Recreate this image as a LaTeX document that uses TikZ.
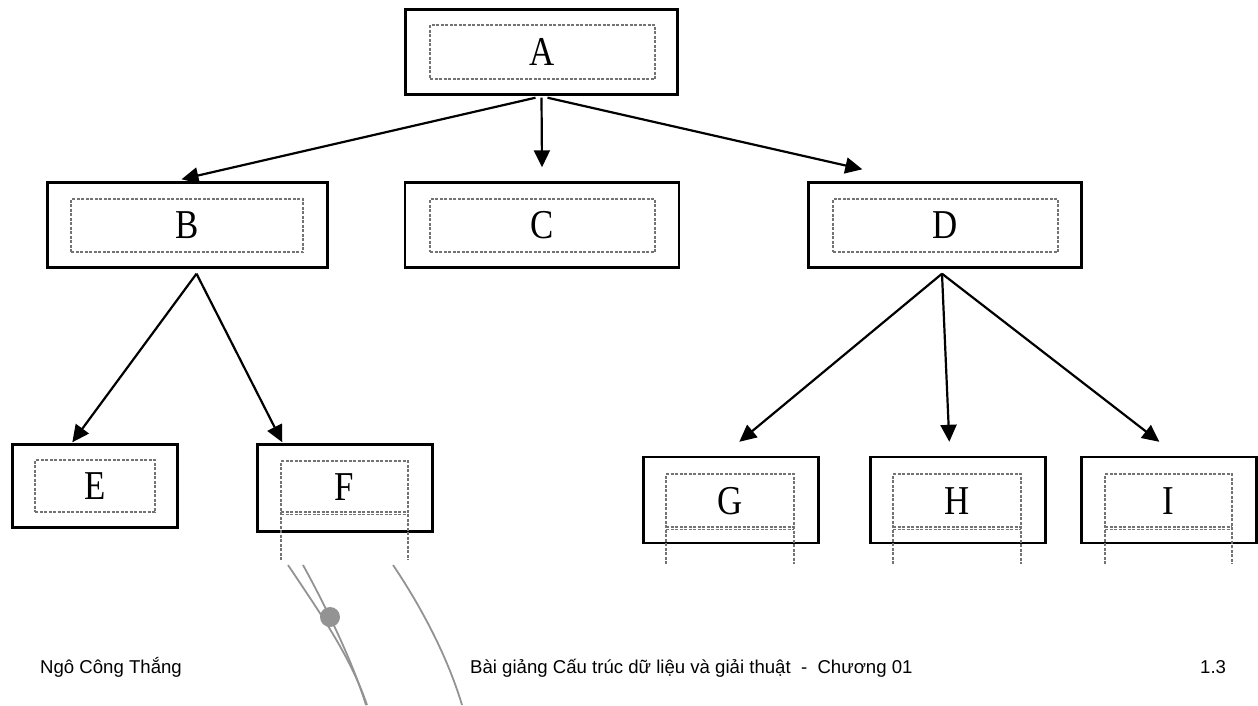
\documentclass[tikz,border=0pt]{standalone}
\usepackage{fontspec}
\setmainfont{Liberation Serif}
\newfontfamily\footfont{Liberation Sans}
\usetikzlibrary{arrows.meta,calc}
\begin{document}
\begin{tikzpicture}[x=1pt,y=-1pt,
  outerbox/.style={draw=black,line width=2.4pt,minimum height=85pt,inner sep=0pt},
  innerbox/.style={draw=black!55,line width=1.1pt,dash pattern=on 3pt off 1.5pt,inner sep=0pt},
  innerline/.style={draw=black!55,line width=1.1pt,dash pattern=on 3pt off 1.5pt},
  letter/.style={font=\fontsize{41}{41}\selectfont,inner sep=0pt},
  link/.style={draw=black,line width=2.2pt,-{Triangle[length=17pt,width=16pt]}},
  stroke/.style={draw=gray!85,line width=1.8pt},
  foot/.style={font=\footfont\fontsize{18.6}{21}\selectfont,inner sep=0pt}]
\useasboundingbox (0,0) rectangle (1258,705);

% top level
\node[outerbox,minimum width=272pt] (A) at (541.5,52) {};
\node[innerbox,minimum width=225pt,minimum height=54pt] (Ai) at (542.5,52) {};
\node[letter] (Al) at (Ai.center) {\scalebox{0.85}[1]{A}};

% second level
\node[outerbox,minimum width=280pt] (B) at (187.5,225) {};
\node[innerbox,minimum width=232pt,minimum height=53pt] (Bi) at (187,225.5) {};
\node[letter] (Bl) at (Bi.center) {\scalebox{0.85}[1]{B}};

\node[outerbox,minimum width=274pt] (C) at (542,225) {};
\node[innerbox,minimum width=225pt,minimum height=53pt] (Ci) at (542.5,225.5) {};
\node[letter] (Cl) at (Ci.center) {\scalebox{0.85}[1]{C}};

\node[outerbox,minimum width=273pt] (D) at (945,225) {};
\node[innerbox,minimum width=225pt,minimum height=53pt] (Di) at (945.5,225.5) {};
\node[letter] (Dl) at (Di.center) {\scalebox{0.85}[1]{D}};

% third level
\node[outerbox,minimum width=165pt,minimum height=83pt] (E) at (95,486) {};
\node[innerbox,minimum width=120pt,minimum height=52pt] (Ei) at (95,486) {};
\node[letter] (El) at (Ei.center) {\scalebox{0.85}[1]{E}};

\node[outerbox,minimum width=175pt,minimum height=87pt] (F) at (345,488) {};
\draw[innerline] (281,560) -- (281,461) -- (408,461) -- (408,560);
\draw[innerline,line width=1.3pt] (281,512) -- (408,512);
\draw[innerline] (281,514.5) -- (408,514.5);
\node[letter] (Fl) at (344.5,487) {\scalebox{0.85}[1]{F}};

\node[outerbox,minimum width=175pt,minimum height=86pt] (G) at (731,500) {};
\draw[innerline] (666,564) -- (666,474) -- (794,474) -- (794,564);
\draw[innerline,line width=1.3pt] (666,527) -- (794,527);
\draw[innerline] (666,529.5) -- (794,529.5);
\node[letter] (Gl) at (730,501) {\scalebox{0.85}[1]{G}};

\node[outerbox,minimum width=175pt,minimum height=86pt] (H) at (958,500) {};
\draw[innerline] (893,564) -- (893,474) -- (1021,474) -- (1021,564);
\draw[innerline,line width=1.3pt] (893,527) -- (1021,527);
\draw[innerline] (893,529.5) -- (1021,529.5);
\node[letter] (Hl) at (957,501) {\scalebox{0.85}[1]{H}};

\node[outerbox,minimum width=175pt,minimum height=86pt] (I) at (1169,500) {};
\draw[innerline] (1105,564) -- (1105,474) -- (1232,474) -- (1232,564);
\draw[innerline,line width=1.3pt] (1105,527) -- (1232,527);
\draw[innerline] (1105,529.5) -- (1232,529.5);
\node[letter] (Il) at (1168.5,501) {\scalebox{0.85}[1]{I}};

% connectors
\coordinate (Aapex) at ($(A.south)+(0,2)$);
\draw[link] ($(Aapex)+(-6,0)$) -- ($(B.north)+(-6,-2)$);
\draw[link] (Aapex) -- ($(C.north)+(0,-14)$);
\draw[link] ($(Aapex)+(6,0)$) -- ($(D.north west)+(55,-12)$);

\coordinate (Bapex) at ($(B.south)+(9,5)$);
\draw[link] (Bapex) -- ($(E.north west)+(61,-1)$);
\draw[link] (Bapex) -- ($(F.north west)+(26,-1)$);

\coordinate (Dapex) at ($(D.south)+(-3,5)$);
\draw[link] (Dapex) -- ($(G.north west)+(97,-14)$);
\draw[link] (Dapex) -- ($(H.north west)+(80,-14)$);
\draw[link] (Dapex) -- ($(I.north west)+(79,-14)$);

% grey strokes below the F box
\draw[stroke] (288,565) .. controls (318,610) and (350,655) .. (367,705);
\draw[stroke] (303,565) .. controls (325,605) and (352,660) .. (366,705);
\draw[stroke] (393,565) .. controls (420,605) and (447,655) .. (462,705);
\fill[gray!85] (330,617) circle (10);

% footer
\node[foot,anchor=base west] (author) at (40,673) {Ngô Công Thắng};
\node[foot,anchor=base west] (title) at (470,673) {Bài giảng Cấu trúc dữ liệu và giải thuật\ \ -\ \ Chương 01};
\node[foot,anchor=base west] (page) at (1200,673) {1.3};
\end{tikzpicture}
\end{document}
